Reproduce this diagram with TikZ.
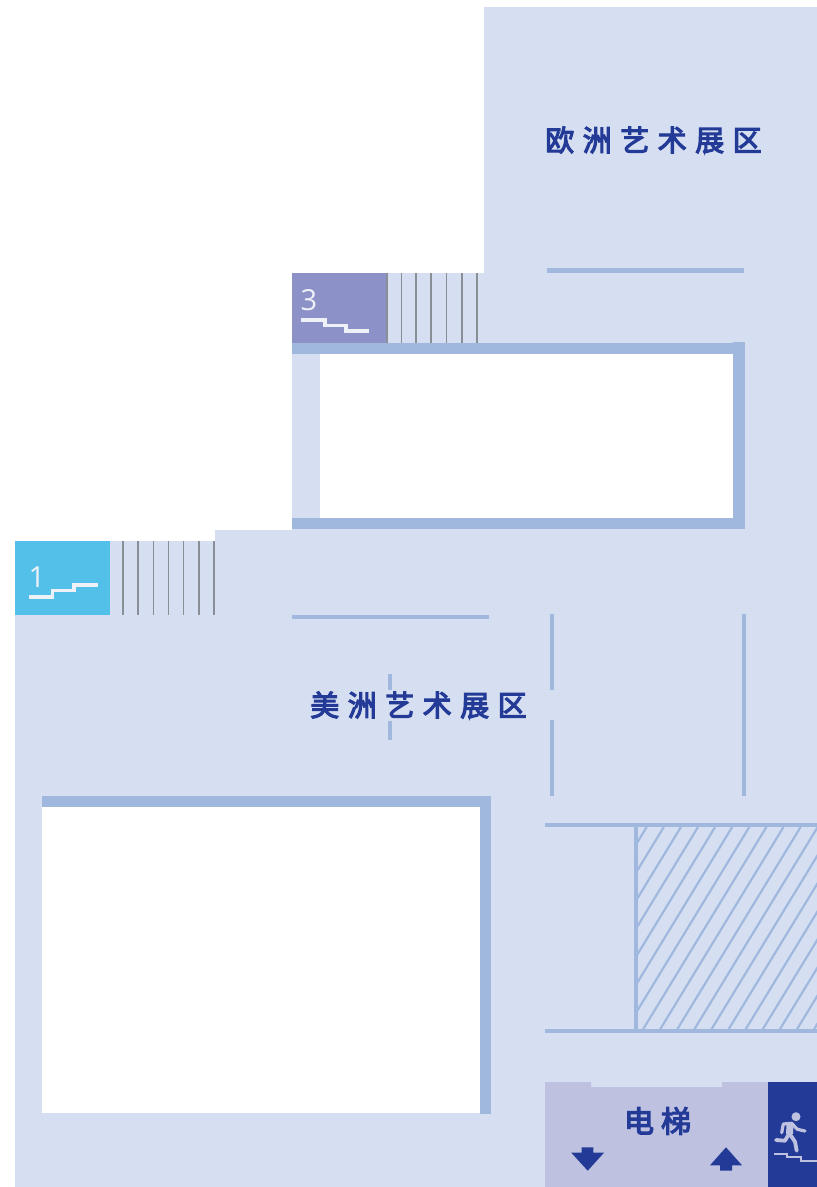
\documentclass[tikz,border=0pt]{standalone}
\usepackage{fontspec}
\newfontfamily\cjk[FakeBold=4]{Noto Sans CJK SC}
\newfontfamily\numfont{Open Sans}
\definecolor{floorc}{HTML}{D6DFF1}
\definecolor{wallc}{HTML}{A0B8DE}
\definecolor{navyc}{HTML}{233A97}
\definecolor{liftc}{HTML}{BEC2E0}
\definecolor{stairc}{HTML}{8C91C7}
\definecolor{cyanc}{HTML}{52C0E8}
\definecolor{treadc}{HTML}{8A8E96}
\definecolor{whitish}{HTML}{EEF1F8}
\tikzset{
  wall/.style={fill=wallc,draw=none},
  tread/.style={draw=treadc,line width=1.6pt},
  stepline/.style={draw=whitish,line width=3.4pt,line join=miter},
  zone/.style={font=\cjk\fontsize{29}{29}\selectfont,text=navyc,inner sep=0pt},
  liftlabel/.style={font=\cjk\fontsize{30}{30}\selectfont,text=navyc,inner sep=0pt},
  numlabel/.style={font=\numfont\fontsize{29}{29}\selectfont,text=whitish,inner sep=0pt},
  person/.style={draw=liftc,line cap=round,line join=round},
}
\begin{document}
\begin{tikzpicture}[x=1pt,y=-1pt]
\useasboundingbox (0,0) rectangle (817,1187);
% floor
\fill[floorc] (484,7) -- (817,7) -- (817,1187) -- (15,1187) -- (15,541) -- (215,541) -- (215,530) -- (292,530) -- (292,273) -- (484,273) -- cycle;
% holes
\fill[white] (320,354) rectangle (733,518);
\fill[white] (42,807) rectangle (480,1113);
% stair blocks
\fill[stairc] (292,273) rectangle (387,343);
\fill[cyanc] (15,541) rectangle (110,615);
\foreach \x in {387,401.5,416,431,446.5,462,477} \draw[tread] (\x,273) -- (\x,343);
\foreach \x in {123,138,153.5,168.5,183.5,199,214} \draw[tread] (\x,541) -- (\x,615);
\draw[stepline] (301,320) -- (325,320) -- (325,325.5) -- (346,325.5) -- (346,331) -- (369,331);
\draw[stepline] (29,597) -- (52.7,597) -- (52.7,590.7) -- (74,590.7) -- (74,585) -- (98,585);
\node[numlabel] (n3) at (309,300) {3};
\node[numlabel] (n1) at (37,577) {1};
% walls
\fill[wall] (547,268) rectangle (744,273);
\fill[wall] (292,343) rectangle (745,354);
\fill[wall] (733,342) rectangle (745,529);
\fill[wall] (292,518) rectangle (745,529);
\fill[wall] (292,615) rectangle (489,619);
\fill[wall] (550,614) rectangle (554,690);
\fill[wall] (550,720) rectangle (554,796);
\fill[wall] (742,614) rectangle (746,796);
\fill[wall] (388,674) rectangle (392,690);
\fill[wall] (388,721) rectangle (392,740);
\fill[wall] (42,796) rectangle (491,807);
\fill[wall] (480,796) rectangle (491,1114);
% hatched room
\begin{scope}
\clip (636,825) rectangle (817,1031);
\foreach \k in {0,...,18} \draw[wallc,line width=2.2pt] ({646.7+17.1*\k},827) -- ({646.7+17.1*\k-137.2},1052);
\end{scope}
\fill[wall] (545,823) rectangle (817,827);
\fill[wall] (545,1029) rectangle (817,1033);
\fill[wall] (634,823) rectangle (638,1033);
% lift
\fill[liftc] (545,1082) -- (591,1082) -- (591,1087) -- (722,1087) -- (722,1082) -- (768,1082) -- (768,1187) -- (545,1187) -- cycle;
\fill[navyc] (768,1082) rectangle (817,1187);
\fill[navyc] (581.7,1147.3) -- (593.3,1147.3) -- (593.3,1152.7) -- (604,1152.7) -- (587.7,1170.7) -- (571.3,1152.7) -- (581.7,1152.7) -- cycle;
\fill[navyc] (726,1147.3) -- (742,1165.3) -- (732,1165.3) -- (732,1170.7) -- (720,1170.7) -- (720,1165.3) -- (710,1165.3) -- cycle;
% exit figure
\fill[liftc] (796,1116.7) circle (4.5);
\draw[person,line width=3.2pt] (781.7,1132.7) -- (783.3,1124) -- (791.7,1123.3) -- (797.3,1129.3) -- (805,1131);
\draw[person,line width=3.8pt] (776,1140) -- (785,1140.7) -- (789.3,1133.3) -- (795,1141.7) -- (796.7,1150.7);
\draw[person,line width=7pt,line cap=butt] (790,1124.5) -- (789.5,1134);
\draw[draw=liftc,line width=2pt] (774,1154) -- (787.3,1154) -- (787.3,1157.3) -- (800.7,1157.3) -- (800.7,1161.3) -- (817,1161.3);
% text
\node[zone] (eu) at (653.5,140) {欧\kern8.5pt 洲\kern8.5pt 艺\kern8.5pt 术\kern8.5pt 展\kern8.5pt 区};
\node[zone] (am) at (418.5,705) {美\kern8.5pt 洲\kern8.5pt 艺\kern8.5pt 术\kern8.5pt 展\kern8.5pt 区};
\node[liftlabel] (lift) at (657.5,1121) {电\kern7pt 梯};
\end{tikzpicture}
\end{document}
